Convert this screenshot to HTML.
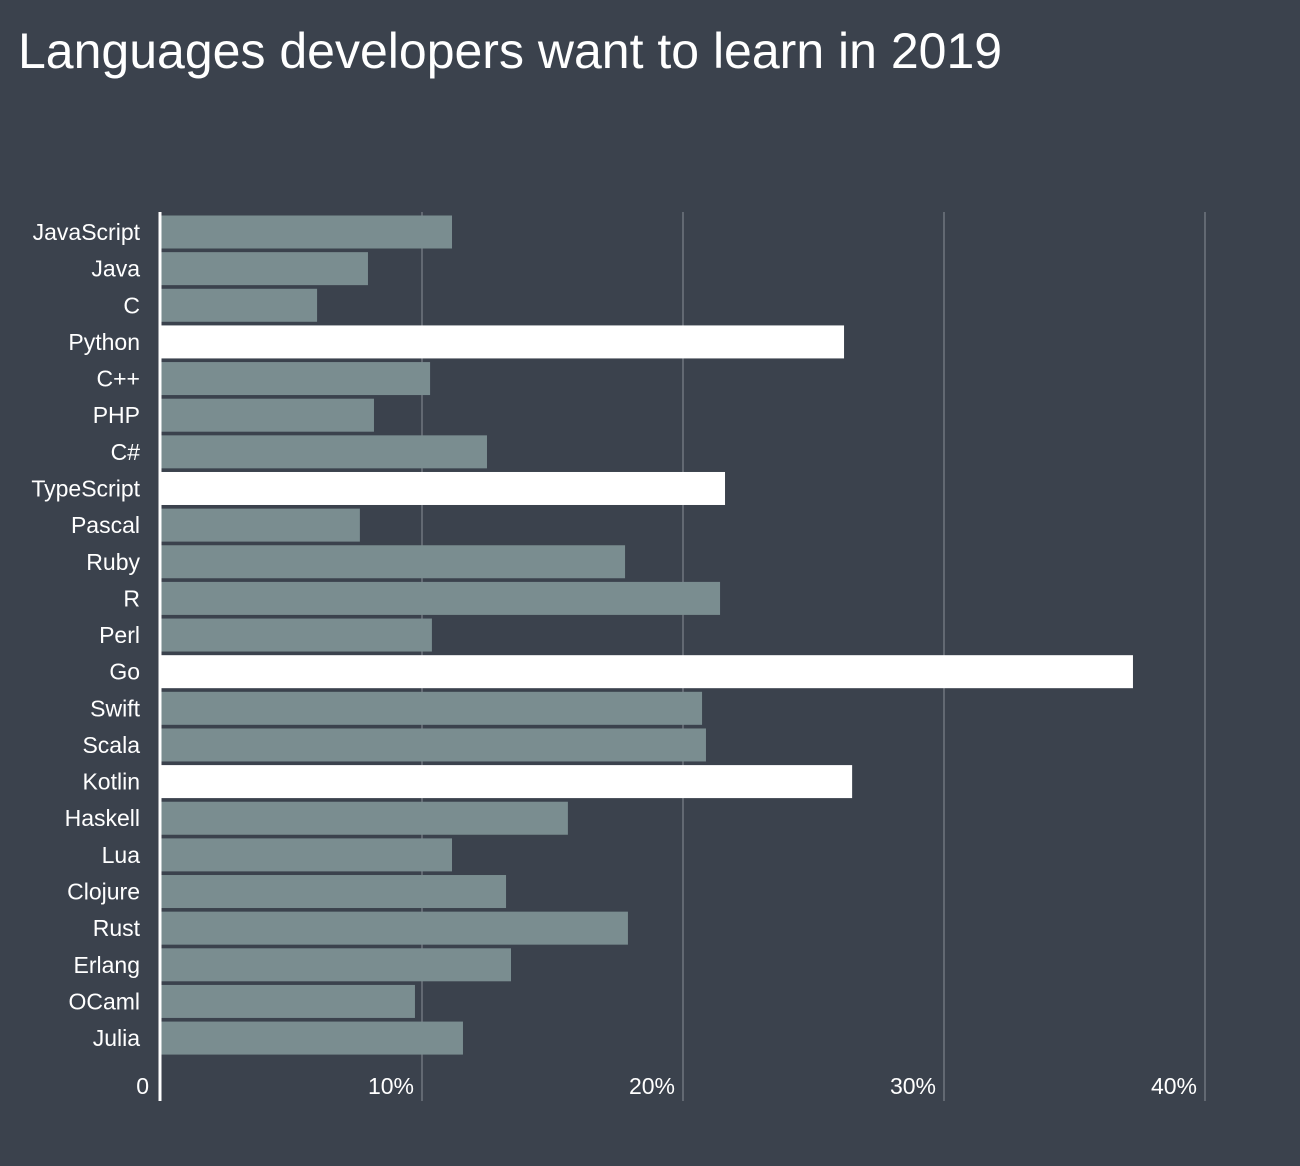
<!DOCTYPE html>
<html><head><meta charset="utf-8"><style>
html,body{margin:0;padding:0;background:#3b424d;overflow:hidden;}
svg{display:block;}
svg text{font-family:"Liberation Sans",sans-serif;fill:#fff;}
</style></head><body>
<svg id="chart" width="1300" height="1166" xmlns="http://www.w3.org/2000/svg">
<rect width="1300" height="1166" fill="#3b424d"/>
<text x="18" y="68" font-size="50">Languages developers want to learn in 2019</text>
<g id="grid"></g><g id="bars"></g><g id="labels"></g><g id="ticks"></g>
<line x1="160" y1="212" x2="160" y2="1101" stroke="#fff" stroke-width="3"/>
</svg>
<script>
const categories=["JavaScript","Java","C","Python","C++","PHP","C#","TypeScript","Pascal","Ruby","R","Perl","Go","Swift","Scala","Kotlin","Haskell","Lua","Clojure","Rust","Erlang","OCaml","Julia"];
const values=[11.15,7.93,5.98,26.17,10.31,8.16,12.49,21.61,7.62,17.78,21.42,10.38,37.24,20.73,20.88,26.48,15.59,11.15,13.22,17.89,13.41,9.73,11.57];
const highlighted=["Python","TypeScript","Go","Kotlin"];
const tickValues=[0,10,20,30,40];
const tickLabels=["0","10%","20%","30%","40%"];
const NS="http://www.w3.org/2000/svg";
const x0=161,pxPer=26.1,yTop=215.5,pitch=36.64,bh=33;
const xs=v=>x0+v*pxPer;
const ys=i=>yTop+i*pitch;
function mk(t,a){const e=document.createElementNS(NS,t);for(const k in a)e.setAttribute(k,a[k]);return e;}
const grid=document.getElementById('grid'),bars=document.getElementById('bars'),labels=document.getElementById('labels'),ticks=document.getElementById('ticks');
tickValues.forEach((v,i)=>{
  if(v>0){const l=mk('line',{x1:xs(v),x2:xs(v),y1:212,y2:1101,stroke:'#7d838c','stroke-width':1.2});
  
  
  grid.appendChild(l);}
  const t=mk('text',{x:v===0?149:xs(v)-8,y:1094,'font-size':23,'text-anchor':'end'});
  t.textContent=tickLabels[i];
  
  
  ticks.appendChild(t);
});
categories.forEach((c,i)=>{
  const hl=highlighted.includes(c);
  const r=mk('rect',{x:x0,y:ys(i),width:xs(values[i])-x0,height:bh,fill:hl?'#ffffff':'#7a8d90'});
  
  
  bars.appendChild(r);
  const t=mk('text',{x:140,y:ys(i)+bh/2+8,'font-size':23,'text-anchor':'end'});
  t.textContent=c;
  
  
  labels.appendChild(t);
});
</script>
</body></html>
